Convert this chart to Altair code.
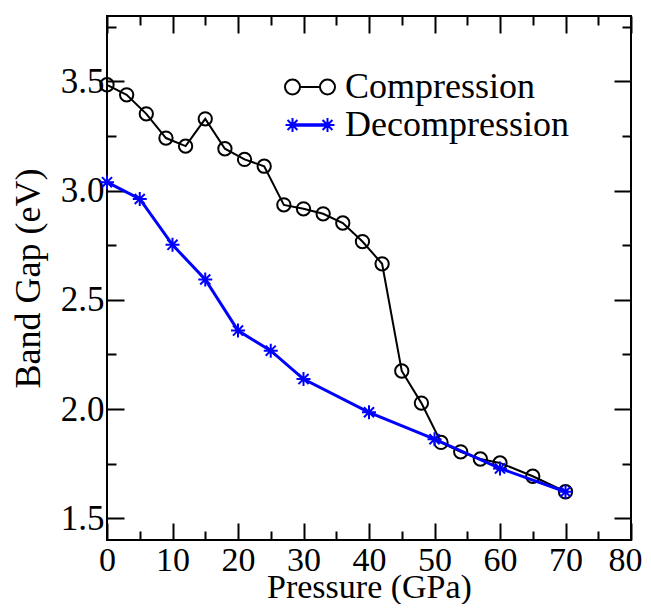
import altair as alt
import pandas as pd

# ---- data ----
comp_pressure = [0, 3, 6, 9, 12, 15, 18, 21, 24, 27, 30, 33, 36, 39, 42, 45, 48, 51, 54, 57, 60, 65, 70]
comp_gap = [3.485, 3.439, 3.352, 3.241, 3.204, 3.329, 3.192, 3.143, 3.112, 2.935, 2.917, 2.894,
            2.852, 2.767, 2.665, 2.174, 2.027, 1.847, 1.804, 1.771, 1.753, 1.692, 1.621]
decomp_pressure = [0, 5, 10, 15, 20, 25, 30, 40, 50, 60, 70]
decomp_gap = [3.039, 2.962, 2.752, 2.593, 2.359, 2.267, 2.137, 1.985, 1.862, 1.728, 1.621]

series_names = ["Compression", "Decompression"]
series_colors = ["black", "#0000ff"]

x_major = [0, 10, 20, 30, 40, 50, 60, 70, 80]
x_minor = [5, 15, 25, 35, 45, 55, 65, 75]
y_major = [1.5, 2.0, 2.5, 3.0, 3.5]
y_minor = [1.75, 2.25, 2.75, 3.25, 3.75]

comp = pd.DataFrame({"p": comp_pressure, "gap": comp_gap, "series": series_names[0]})
decomp = pd.DataFrame({"p": decomp_pressure, "gap": decomp_gap, "series": series_names[1]})
both = pd.concat([comp, decomp], ignore_index=True)

FONT = "Liberation Serif"
MAJ, MIN = 17, 9

asterisk = ("M 0 -1 L 0 1 M -1 0 L 1 0 M -0.72 -0.72 L 0.72 0.72 M -0.72 0.72 L 0.72 -0.72")

# legend symbols: marker - line - marker
leg_comp = ("M -0.526 0 A 0.395 0.395 0 1 1 -1.316 0 A 0.395 0.395 0 1 1 -0.526 0 "
            "M -0.526 0 L 0.526 0 "
            "M 1.316 0 A 0.395 0.395 0 1 1 0.526 0 A 0.395 0.395 0 1 1 1.316 0")
s = 0.368
d = 0.26
def star_at(cx):
    return (f"M {cx} {-s} L {cx} {s} M {cx - s} 0 L {cx + s} 0 "
            f"M {cx - d} {-d} L {cx + d} {d} M {cx - d} {d} L {cx + d} {-d} ")
leg_decomp = (star_at(-0.921) + star_at(0.921) +
              "M -0.921 -0.035 L 0.921 -0.035 M -0.921 0.035 L 0.921 0.035")

xs = alt.Scale(domain=[0, 80], nice=False, zero=False)
ys = alt.Scale(domain=[1.4, 3.8], nice=False, zero=False)


def xaxis(orient, values, size, labels=False, title=None):
    kw = dict(orient=orient, values=values, tickSize=size, offset=-size, domain=False,
              grid=False, tickColor="black", tickWidth=2, labels=labels)
    if labels:
        kw.update(labelFont=FONT, labelFontSize=34, labelColor="black", labelPadding=3,
                  labelFlush=False, labelOverlap=False,
                  labelOffset={"condition": {"test": "datum.value == 80", "value": -6}, "value": 0})
    if title:
        kw.update(title=title, titleFont=FONT, titleFontSize=34, titleFontWeight="normal",
                  titleColor="black", titleBaseline="alphabetic", titleY=size + 57)
    else:
        kw.update(title=None)
    return alt.Axis(**kw)


def yaxis(orient, values, size, labels=False, title=None):
    kw = dict(orient=orient, values=values, tickSize=size, offset=-size, domain=False,
              grid=False, tickColor="black", tickWidth=2, labels=labels)
    if labels:
        kw.update(labelFont=FONT, labelFontSize=35, labelColor="black", labelPadding=3,
                  labelFlush=False, labelOverlap=False, format=".1f")
    if title:
        kw.update(title=title, titleFont=FONT, titleFontSize=36, titleFontWeight="normal",
                  titleColor="black", titleBaseline="alphabetic", titleX=-(size + 68))
    else:
        kw.update(title=None)
    return alt.Axis(**kw)


comp_line = alt.Chart(comp).mark_line(color="black", strokeWidth=2).encode(
    x=alt.X("p:Q", scale=xs, axis=xaxis("bottom", x_major, MAJ, True, "Pressure (GPa)")),
    y=alt.Y("gap:Q", scale=ys, axis=yaxis("left", y_major, MAJ, True, "Band Gap (eV)")),
)
comp_pts = alt.Chart(comp).mark_point(shape="circle", size=177, strokeWidth=2, color="black",
                                      filled=False, opacity=1).encode(
    x=alt.X("p:Q", scale=xs, axis=xaxis("top", x_major, MAJ)),
    y=alt.Y("gap:Q", scale=ys, axis=yaxis("right", y_major, MAJ)),
)
decomp_line = alt.Chart(decomp).mark_line(color="#0000ff", strokeWidth=3).encode(
    x=alt.X("p:Q", scale=xs, axis=xaxis("bottom", x_minor, MIN)),
    y=alt.Y("gap:Q", scale=ys, axis=yaxis("left", y_minor, MIN)),
)
decomp_pts = alt.Chart(decomp).mark_point(shape=asterisk, size=196, strokeWidth=2, color="#0000ff",
                                          filled=False, opacity=1).encode(
    x=alt.X("p:Q", scale=xs, axis=xaxis("top", x_minor, MIN)),
    y=alt.Y("gap:Q", scale=ys, axis=yaxis("right", y_minor, MIN)),
)

legend = alt.Legend(orient="none", legendX=183, legendY=51, title=None,
                    labelFont=FONT, labelFontSize=36, labelColor="black", labelLimit=600,
                    symbolSize=1444, symbolStrokeWidth=2, symbolOpacity=1,
                    symbolFillColor="transparent", labelOffset=15, rowPadding=0)

legend_layer = alt.Chart(both).mark_point(filled=False, opacity=0).encode(
    x=alt.X("p:Q", scale=xs, axis=None),
    y=alt.Y("gap:Q", scale=ys, axis=None),
    color=alt.Color("series:N", scale=alt.Scale(domain=series_names, range=series_colors),
                    legend=legend),
    shape=alt.Shape("series:N", scale=alt.Scale(domain=series_names, range=[leg_comp, leg_decomp]),
                    legend=legend),
)

chart = alt.layer(comp_line, comp_pts, decomp_line, decomp_pts, legend_layer).resolve_axis(
    x="independent", y="independent"
).properties(
    width=524, height=524,
    autosize=alt.AutoSizeParams(type="none"),
    padding={"left": 99, "top": 8, "right": 12, "bottom": 64},
).configure_view(stroke="black", strokeWidth=2)

chart.save("out.html", embed_options={"renderer": "svg", "actions": False})
